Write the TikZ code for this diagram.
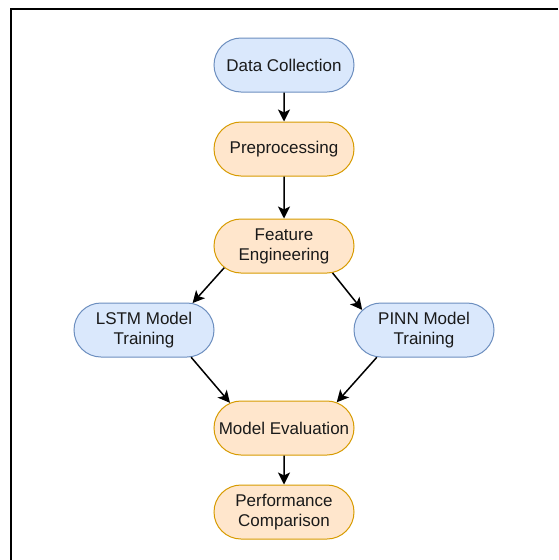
\documentclass[tikz,border=0pt]{standalone}
\usepackage{fontspec}
\setmainfont{Liberation Sans}
\usepackage{xcolor}
\usepackage{tikz}
\usetikzlibrary{shapes.misc,arrows.meta,positioning}
\definecolor{blueFill}{HTML}{DAE8FC}
\definecolor{blueLine}{HTML}{6C8EBF}
\definecolor{orangeFill}{HTML}{FFE6CC}
\definecolor{orangeLine}{HTML}{D79B00}
\definecolor{textGray}{HTML}{1A1A1A}
\tikzstyle{blueBlock} = [rounded rectangle, draw=blueLine, fill=blueFill, line width=1pt,
    text=textGray, align=center, minimum width=140pt, minimum height=54pt, inner sep=0pt,
    font=\fontsize{17}{20}\selectfont]
\tikzstyle{orangeBlock} = [blueBlock, draw=orangeLine, fill=orangeFill]
\tikzstyle{line} = [draw, line width=1.5pt, -{Stealth[length=12pt,width=12pt,inset=3pt]}]
\tikzstyle{frame} = [draw, line width=1.5pt]

\begin{document}
\begin{tikzpicture}[x=1pt, y=1pt, node distance=84pt, on grid]
    \useasboundingbox (0,0) rectangle (558,-560);
    \path [frame] (11,-560) -- (11,-9) -- (558,-9);
    % Place nodes
    \node [blueBlock] (collect) at (284,-65) {Data Collection};
    \node [orangeBlock, below=of collect] (prep) {Preprocessing};
    \node [orangeBlock, below=97pt of prep] (feature) {Feature\\Engineering};
    \node [blueBlock, below left=84pt and 140pt of feature] (lstm) {LSTM Model\\Training};
    \node [blueBlock, below right=84pt and 140pt of feature] (pinn) {PINN Model\\Training};
    \node [orangeBlock, below=182pt of feature] (eval) {Model Evaluation};
    \node [orangeBlock, below=of eval] (compare) {Performance\\Comparison};
    % Draw edges
    \path [line] (collect) -- (prep);
    \path [line] (prep) -- (feature);
    \path [line] (feature.200) -- (lstm.29);
    \path [line] (feature.-29) -- (pinn.162);
    \path [line] (lstm.-30) -- (eval.155);
    \path [line] (pinn.210) -- (eval.26);
    \path [line] (eval) -- (compare);
\end{tikzpicture}
\end{document}
